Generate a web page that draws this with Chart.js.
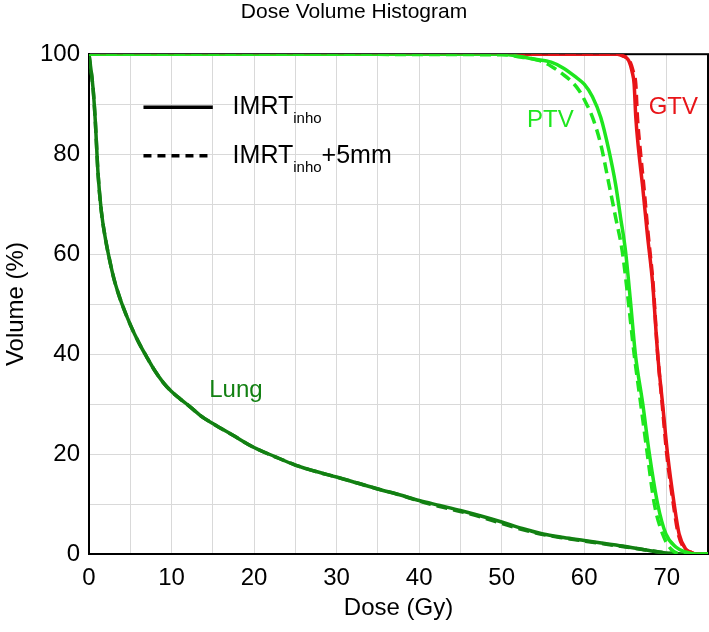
<!DOCTYPE html>
<html>
<head>
<meta charset="utf-8">
<script src="https://cdn.jsdelivr.net/npm/chart.js@4.4.1/dist/chart.umd.min.js"></script>
<style>
  html, body { margin: 0; padding: 0; background: #fff; }
  #wrap { width: 709px; height: 632px; position: relative; }
</style>
</head>
<body>
<div id="wrap"><canvas id="dvh"></canvas></div>
<script>
// DVH data (dose in Gy, volume in %)
const lungDose = [0, 0.5, 0.75, 1.1, 1.5, 2, 2.5, 3, 3.5, 4, 5, 6, 7, 8, 9, 10, 11, 12, 13.5, 15, 17.5, 20, 22.5, 25, 27.5, 30, 32.5, 35, 37.5, 40, 42.5, 45, 47.5, 50, 52.5, 55, 57.5, 60, 62.5, 65, 67.5, 70, 72, 75];
const lungVol = [100, 93, 87, 76, 68.5, 63, 58.8, 55.2, 52.4, 50, 45.9, 42.4, 39.4, 36.6, 34.3, 32.5, 31.1, 29.8, 27.7, 26.1, 23.7, 21.3, 19.5, 17.8, 16.5, 15.4, 14.2, 13, 11.9, 10.7, 9.7, 8.7, 7.6, 6.4, 5.1, 4, 3.3, 2.7, 2.1, 1.5, 0.8, 0.2, 0, 0];
const lungVolMargin = [100, 93, 87, 76, 68.5, 63, 58.8, 55.2, 52.4, 50, 45.9, 42.4, 39.4, 36.6, 34.3, 32.5, 31.1, 29.8, 27.7, 26.1, 23.7, 21.3, 19.5, 17.8, 16.5, 15.4, 14.2, 13, 11.9, 10.6, 9.5, 8.5, 7.4, 6.1, 4.9, 3.9, 3.2, 2.6, 2.0, 1.4, 0.8, 0.2, 0, 0];

const ptvDose = [0, 50, 52, 54, 56, 57.5, 59, 60, 61, 62, 63, 63.8, 64.4, 65, 65.6, 66.2, 67.1, 67.9, 68.9, 69.9, 71.1, 72.3, 73.5, 75];
const ptvVol = [100, 100, 99.6, 99, 98.4, 97.2, 95.4, 94, 91.5, 87.4, 80.7, 74, 67.4, 60.7, 50.7, 40, 30, 20, 10, 4, 1.4, 0.4, 0, 0];
const ptvDoseMargin = [0, 50, 52, 54.6, 56, 57.4, 58.5, 59.4, 60.2, 61, 62, 63, 63.8, 64.6, 65.2, 66.05, 66.85, 67.65, 68.5, 69.5, 70.5, 72, 75];
const ptvVolMargin = [100, 99.9, 99.5, 98.7, 97.6, 96, 94.5, 92.7, 90.3, 87.4, 82, 74, 67.4, 60.7, 52.7, 40, 30, 20, 10, 4, 1, 0, 0];

const gtvDose = [0, 64, 64.6, 65.4, 65.8, 66.05, 66.25, 66.6, 67.05, 67.65, 68.3, 68.9, 69.5, 70.1, 70.9, 71.5, 72.3, 73, 73.5, 75];
const gtvVol = [100, 100, 99.7, 98.7, 96.5, 94, 87.4, 80.7, 74, 64, 54, 40, 30, 20, 10, 4, 1, 0.3, 0, 0];
const gtvDoseMargin = [0, 64, 64.7, 65.5, 65.95, 66.25, 66.45, 66.8, 67.2, 67.75, 68.35, 68.9, 69.45, 70.0, 70.8, 71.4, 72.2, 73, 73.5, 75];
const gtvVolMargin = [100, 100, 99.7, 98.7, 96.5, 94, 87.4, 80.7, 74, 64, 54, 40, 30, 20, 10, 4, 1, 0.3, 0, 0];

const LUNG = 'rgb(18, 128, 18)';
const PTV = 'rgb(30, 230, 30)';
const GTV = 'rgb(232, 20, 24)';
const FONT = "'Liberation Sans', Arial, sans-serif";

function pts(xs, ys) {
  return xs.map((x, i) => ({ x: x, y: ys[i] }));
}

function curve(label, xs, ys, color, dashed) {
  return {
    label: label,
    data: pts(xs, ys),
    borderColor: color,
    borderWidth: 3.5,
    borderDash: dashed ? [11, 6] : [],
    pointRadius: 0,
    showLine: true,
    fill: false,
    cubicInterpolationMode: 'monotone'
  };
}

// legend + structure names + frame
const overlay = {
  id: 'overlay',
  beforeDatasetsDraw(chart) {
    const a = chart.chartArea;
    const ctx = chart.ctx;
    ctx.save();
    ctx.strokeStyle = '#000';
    ctx.lineWidth = 2;
    ctx.strokeRect(a.left, a.top, a.right - a.left, a.bottom - a.top);
    ctx.restore();
  },
  afterDatasetsDraw(chart) {
    const ctx = chart.ctx;
    const xs = chart.scales.x, ys = chart.scales.y;
    ctx.save();
    // legend
    const x0 = xs.getPixelForValue(6.6), x1 = xs.getPixelForValue(15);
    const tx = xs.getPixelForValue(17.4);
    const yA = ys.getPixelForValue(89.4), yB = ys.getPixelForValue(79.7);
    ctx.strokeStyle = '#000';
    ctx.lineWidth = 3.5;
    ctx.beginPath(); ctx.moveTo(x0, yA); ctx.lineTo(x1, yA); ctx.stroke();
    ctx.setLineDash([8, 6]);
    ctx.beginPath(); ctx.moveTo(x0, yB); ctx.lineTo(x1, yB); ctx.stroke();
    ctx.setLineDash([]);
    ctx.fillStyle = '#000';
    ctx.textBaseline = 'alphabetic';
    ctx.textAlign = 'left';
    const rows = [[yA, ''], [yB, '+5mm']];
    rows.forEach(r => {
      const base = r[0] + 7;
      ctx.font = '25px ' + FONT;
      ctx.fillText('IMRT', tx, base);
      let w = ctx.measureText('IMRT').width;
      ctx.font = '15px ' + FONT;
      ctx.fillText('inho', tx + w, base + 9);
      w += ctx.measureText('inho').width;
      if (r[1]) {
        ctx.font = '25px ' + FONT;
        ctx.fillText(r[1], tx + w, base);
      }
    });
    // structure labels
    ctx.font = '24px ' + FONT;
    ctx.textAlign = 'center';
    ctx.textBaseline = 'middle';
    ctx.fillStyle = LUNG;
    ctx.fillText('Lung', xs.getPixelForValue(17.8), ys.getPixelForValue(32.7));
    ctx.fillStyle = PTV;
    ctx.fillText('PTV', xs.getPixelForValue(55.9), ys.getPixelForValue(86.7));
    ctx.fillStyle = GTV;
    ctx.fillText('GTV', xs.getPixelForValue(70.8), ys.getPixelForValue(89.3));
    ctx.restore();
  }
};

new Chart(document.getElementById('dvh'), {
  type: 'scatter',
  data: {
    datasets: [
      curve('PTV IMRTinho', ptvDose, ptvVol, PTV, false),
      curve('PTV IMRTinho+5mm', ptvDoseMargin, ptvVolMargin, PTV, true),
      curve('GTV IMRTinho', gtvDose, gtvVol, GTV, false),
      curve('GTV IMRTinho+5mm', gtvDoseMargin, gtvVolMargin, GTV, true),
      curve('Lung IMRTinho+5mm', lungDose, lungVolMargin, LUNG, true),
      curve('Lung IMRTinho', lungDose, lungVol, LUNG, false)
    ]
  },
  options: {
    responsive: true,
    maintainAspectRatio: false,
    animation: false,
    layout: { padding: { left: 0, right: 1, top: 0, bottom: 0 } },
    plugins: {
      legend: { display: false },
      tooltip: { enabled: false },
      title: {
        display: true,
        text: 'Dose Volume Histogram',
        color: '#000',
        font: { family: FONT, size: 21, weight: 'normal' },
        padding: { top: 0, bottom: 29 }
      }
    },
    scales: {
      x: {
        type: 'linear',
        min: 0, max: 75,
        grid: { color: '#d9d9d9', lineWidth: 1, drawTicks: false },
        border: { color: '#000', width: 2 },
        ticks: {
          stepSize: 5,
          padding: 10,
          color: '#000',
          font: { family: FONT, size: 24 },
          maxRotation: 0,
          autoSkip: false,
          callback: v => (v % 10 === 0 ? String(v) : '')
        },
        title: {
          display: true,
          text: 'Dose (Gy)',
          color: '#000',
          font: { family: FONT, size: 24 },
          padding: { top: 0, bottom: 9 }
        },
        afterFit: s => { s.height = 78; s.paddingLeft = 0; s.paddingRight = 0; }
      },
      y: {
        type: 'linear',
        min: 0, max: 100,
        grid: { color: '#d9d9d9', lineWidth: 1, drawTicks: false },
        border: { color: '#000', width: 2 },
        ticks: {
          stepSize: 10,
          padding: 9,
          color: '#000',
          font: { family: FONT, size: 24 },
          autoSkip: false,
          callback: v => (v % 20 === 0 ? String(v) : '')
        },
        title: {
          display: true,
          text: 'Volume (%)',
          color: '#000',
          font: { family: FONT, size: 24 },
          padding: { top: 2, bottom: 0 }
        },
        afterFit: s => { s.width = 89; s.paddingTop = 0; s.paddingBottom = 0; }
      }
    }
  },
  plugins: [overlay]
});
</script>
</body>
</html>
